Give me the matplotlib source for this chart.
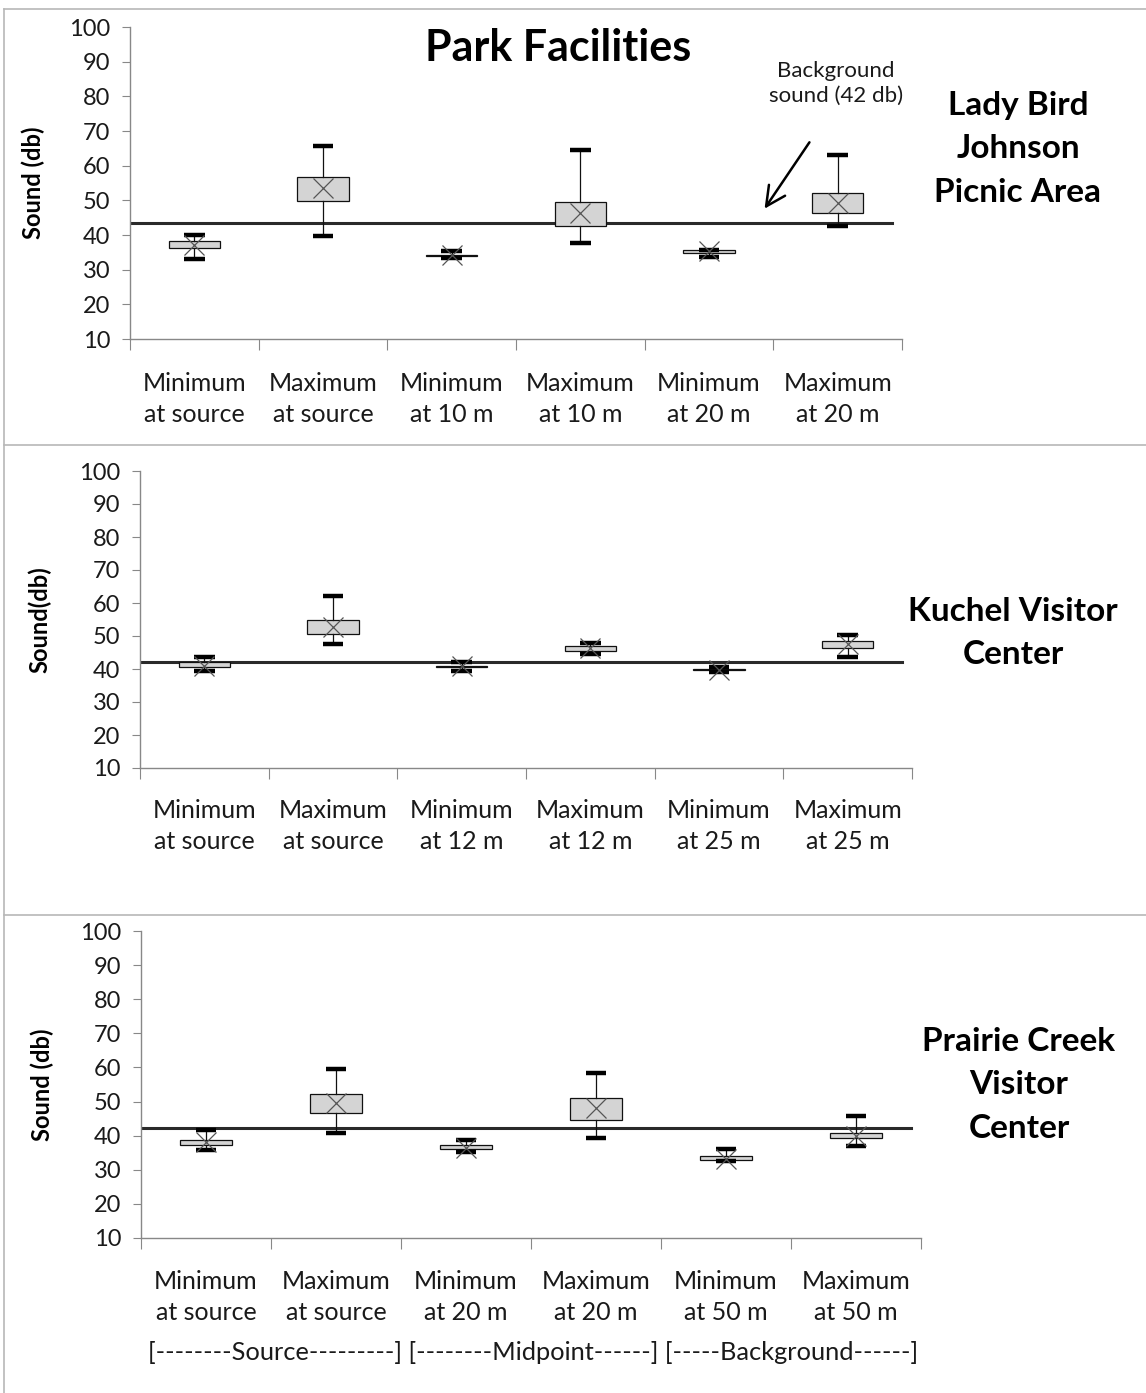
import matplotlib
matplotlib.use("Agg")
import matplotlib.pyplot as plt
from matplotlib import transforms
from matplotlib.lines import Line2D
from matplotlib.patches import FancyArrowPatch

plt.rcParams['font.family'] = ['Lato', 'DejaVu Sans']

W, H = 1146, 1393

# ---------------- data ----------------
cats1 = ["Minimum\nat source", "Maximum\nat source", "Minimum\nat 10 m",
         "Maximum\nat 10 m", "Minimum\nat 20 m", "Maximum\nat 20 m"]
cats2 = ["Minimum\nat source", "Maximum\nat source", "Minimum\nat 12 m",
         "Maximum\nat 12 m", "Minimum\nat 25 m", "Maximum\nat 25 m"]
cats3 = ["Minimum\nat source", "Maximum\nat source", "Minimum\nat 20 m",
         "Maximum\nat 20 m", "Minimum\nat 50 m", "Maximum\nat 50 m"]

low1 = [33.0, 39.6, 33.3, 37.8, 33.7, 42.6]
q1_1 = [36.3, 49.8, 34.0, 42.7, 34.9, 46.4]
q3_1 = [38.4, 56.8, 34.3, 49.4, 35.8, 52.0]
high1 = [40.0, 65.6, 35.3, 64.4, 35.8, 63.0]
mean1 = [37.0, 53.5, 34.2, 46.3, 35.3, 49.3]

low2 = [39.3, 47.6, 39.4, 44.4, 39.0, 43.6]
q1_2 = [40.5, 50.5, 40.6, 45.6, 39.6, 46.5]
q3_2 = [42.0, 55.0, 41.0, 47.1, 39.9, 48.6]
high2 = [43.6, 62.2, 42.0, 47.9, 40.5, 50.4]
mean2 = [41.0, 52.8, 40.8, 46.3, 39.7, 47.5]

low3 = [35.9, 40.9, 35.2, 39.4, 32.7, 37.1]
q1_3 = [37.3, 46.7, 36.1, 44.5, 32.8, 39.2]
q3_3 = [38.6, 52.2, 37.4, 51.1, 34.0, 40.7]
high3 = [41.7, 59.5, 38.8, 58.4, 36.1, 45.8]
mean3 = [38.0, 49.5, 36.5, 48.0, 33.3, 40.0]

background = [43.6, 42.0, 42.2]
site_names = ["Lady Bird\nJohnson\nPicnic Area", "Kuchel Visitor\nCenter",
              "Prairie Creek\nVisitor\nCenter"]
ylabels = ["Sound (db)", "Sound(db)", "Sound (db)"]
yticks = [10, 20, 30, 40, 50, 60, 70, 80, 90, 100]
group_row = "[--------Source---------] [--------Midpoint------] [-----Background------]"
title = "Park Facilities"
annot = "Background\nsound (42 db)"

panels = [
    dict(cats=cats1, low=low1, q1=q1_1, q3=q3_1, high=high1, mean=mean1,
         box=(130, 27, 902, 339), lab_y=399, ylab_x=33, site_xy=(1018, 149)),
    dict(cats=cats2, low=low2, q1=q1_2, q3=q3_2, high=high2, mean=mean2,
         box=(140, 471, 912, 768), lab_y=826, ylab_x=40, site_xy=(1013, 633)),
    dict(cats=cats3, low=low3, q1=q1_3, q3=q3_3, high=high3, mean=mean3,
         box=(141, 931, 921, 1238), lab_y=1297, ylab_x=42, site_xy=(1019, 1085)),
]

fig = plt.figure(figsize=(W / 100, H / 100), dpi=100)
fig.patch.set_facecolor('white')


def fx(px):
    return px / W


def fy(py):
    return 1 - py / H


for i, p in enumerate(panels):
    l, t, r, b = p['box']
    ax = fig.add_axes([fx(l), fy(b), (r - l) / W, (b - t) / H])
    stats = []
    for k in range(len(p['cats'])):
        stats.append(dict(whislo=p['low'][k], q1=p['q1'][k], med=p['mean'][k],
                          q3=p['q3'][k], whishi=p['high'][k], mean=p['mean'][k],
                          fliers=[]))
    pos = list(range(1, len(p['cats']) + 1))
    ax.bxp(stats, positions=pos, widths=0.4, capwidths=0.16, patch_artist=True,
           showmeans=True, showfliers=False,
           boxprops=dict(facecolor='#d4d4d4', edgecolor='#111111', linewidth=0.9),
           whiskerprops=dict(color='#111111', linewidth=0.9),
           capprops=dict(color='black', linewidth=3.2, solid_capstyle='butt'),
           medianprops=dict(linewidth=0),
           meanprops=dict(marker='x', markersize=14, markeredgecolor='#555555',
                          markeredgewidth=0.9, markerfacecolor='none'))
    ax.axhline(background[i], xmin=0, xmax=0.987, color='#2a2a2a', linewidth=2.2,
               zorder=1.5)
    ax.set_xlim(0.5, len(p['cats']) + 0.5)
    ax.set_ylim(10, 100)
    ax.set_yticks(yticks)
    ax.set_yticklabels([str(v) for v in yticks], fontsize=17, color='#1a1a1a')
    ax.set_xticks([k + 0.5 for k in range(len(p['cats']) + 1)])
    ax.set_xticklabels([])
    ax.tick_params(axis='y', direction='out', length=6, color='#888888', pad=8)
    ax.tick_params(axis='x', direction='out', length=8, color='#888888')
    for s in ['top', 'right']:
        ax.spines[s].set_visible(False)
    for s in ['left', 'bottom']:
        ax.spines[s].set_color('#888888')
        ax.spines[s].set_linewidth(1.0)
    ax.patch.set_alpha(0)
    # category labels
    tr = transforms.blended_transform_factory(ax.transData, fig.transFigure)
    for k, c in enumerate(p['cats']):
        ax.text(k + 1, fy(p['lab_y']), c, transform=tr, ha='center', va='center',
                fontsize=18, linespacing=1.4, color='#1a1a1a')
    # y label
    fig.text(fx(p['ylab_x']), fy((t + b) / 2), ylabels[i], rotation=90,
             ha='center', va='center', fontsize=17, fontweight='bold')
    # site name
    fig.text(fx(p['site_xy'][0]), fy(p['site_xy'][1]), site_names[i],
             ha='center', va='center', fontsize=24, fontweight='bold',
             linespacing=1.62)

# title
fig.text(fx(558), fy(48), title, ha='center', va='center', fontsize=31,
         fontweight='bold')
# annotation
fig.text(fx(836), fy(83), annot, ha='center', va='center', fontsize=16,
         linespacing=1.3, color='#1a1a1a')
fig.add_artist(FancyArrowPatch(
    (fx(811), fy(140)), (fx(763), fy(211)), transform=fig.transFigure,
    arrowstyle='->,head_length=14,head_width=7', color='black', linewidth=1.8,
    mutation_scale=1))
# group row
fig.text(fx(533), fy(1352), group_row, ha='center', va='center', fontsize=18.3,
         color='#1a1a1a')

# panel borders
bc = '#b8b8b8'
for yy in [9, 445, 915]:
    fig.add_artist(Line2D([fx(4), 1], [fy(yy), fy(yy)], color=bc, linewidth=1.2,
                          transform=fig.transFigure))
fig.add_artist(Line2D([fx(4), fx(4)], [fy(9), 0], color=bc, linewidth=1.2,
                      transform=fig.transFigure))

fig.savefig('out.png', dpi=100)
